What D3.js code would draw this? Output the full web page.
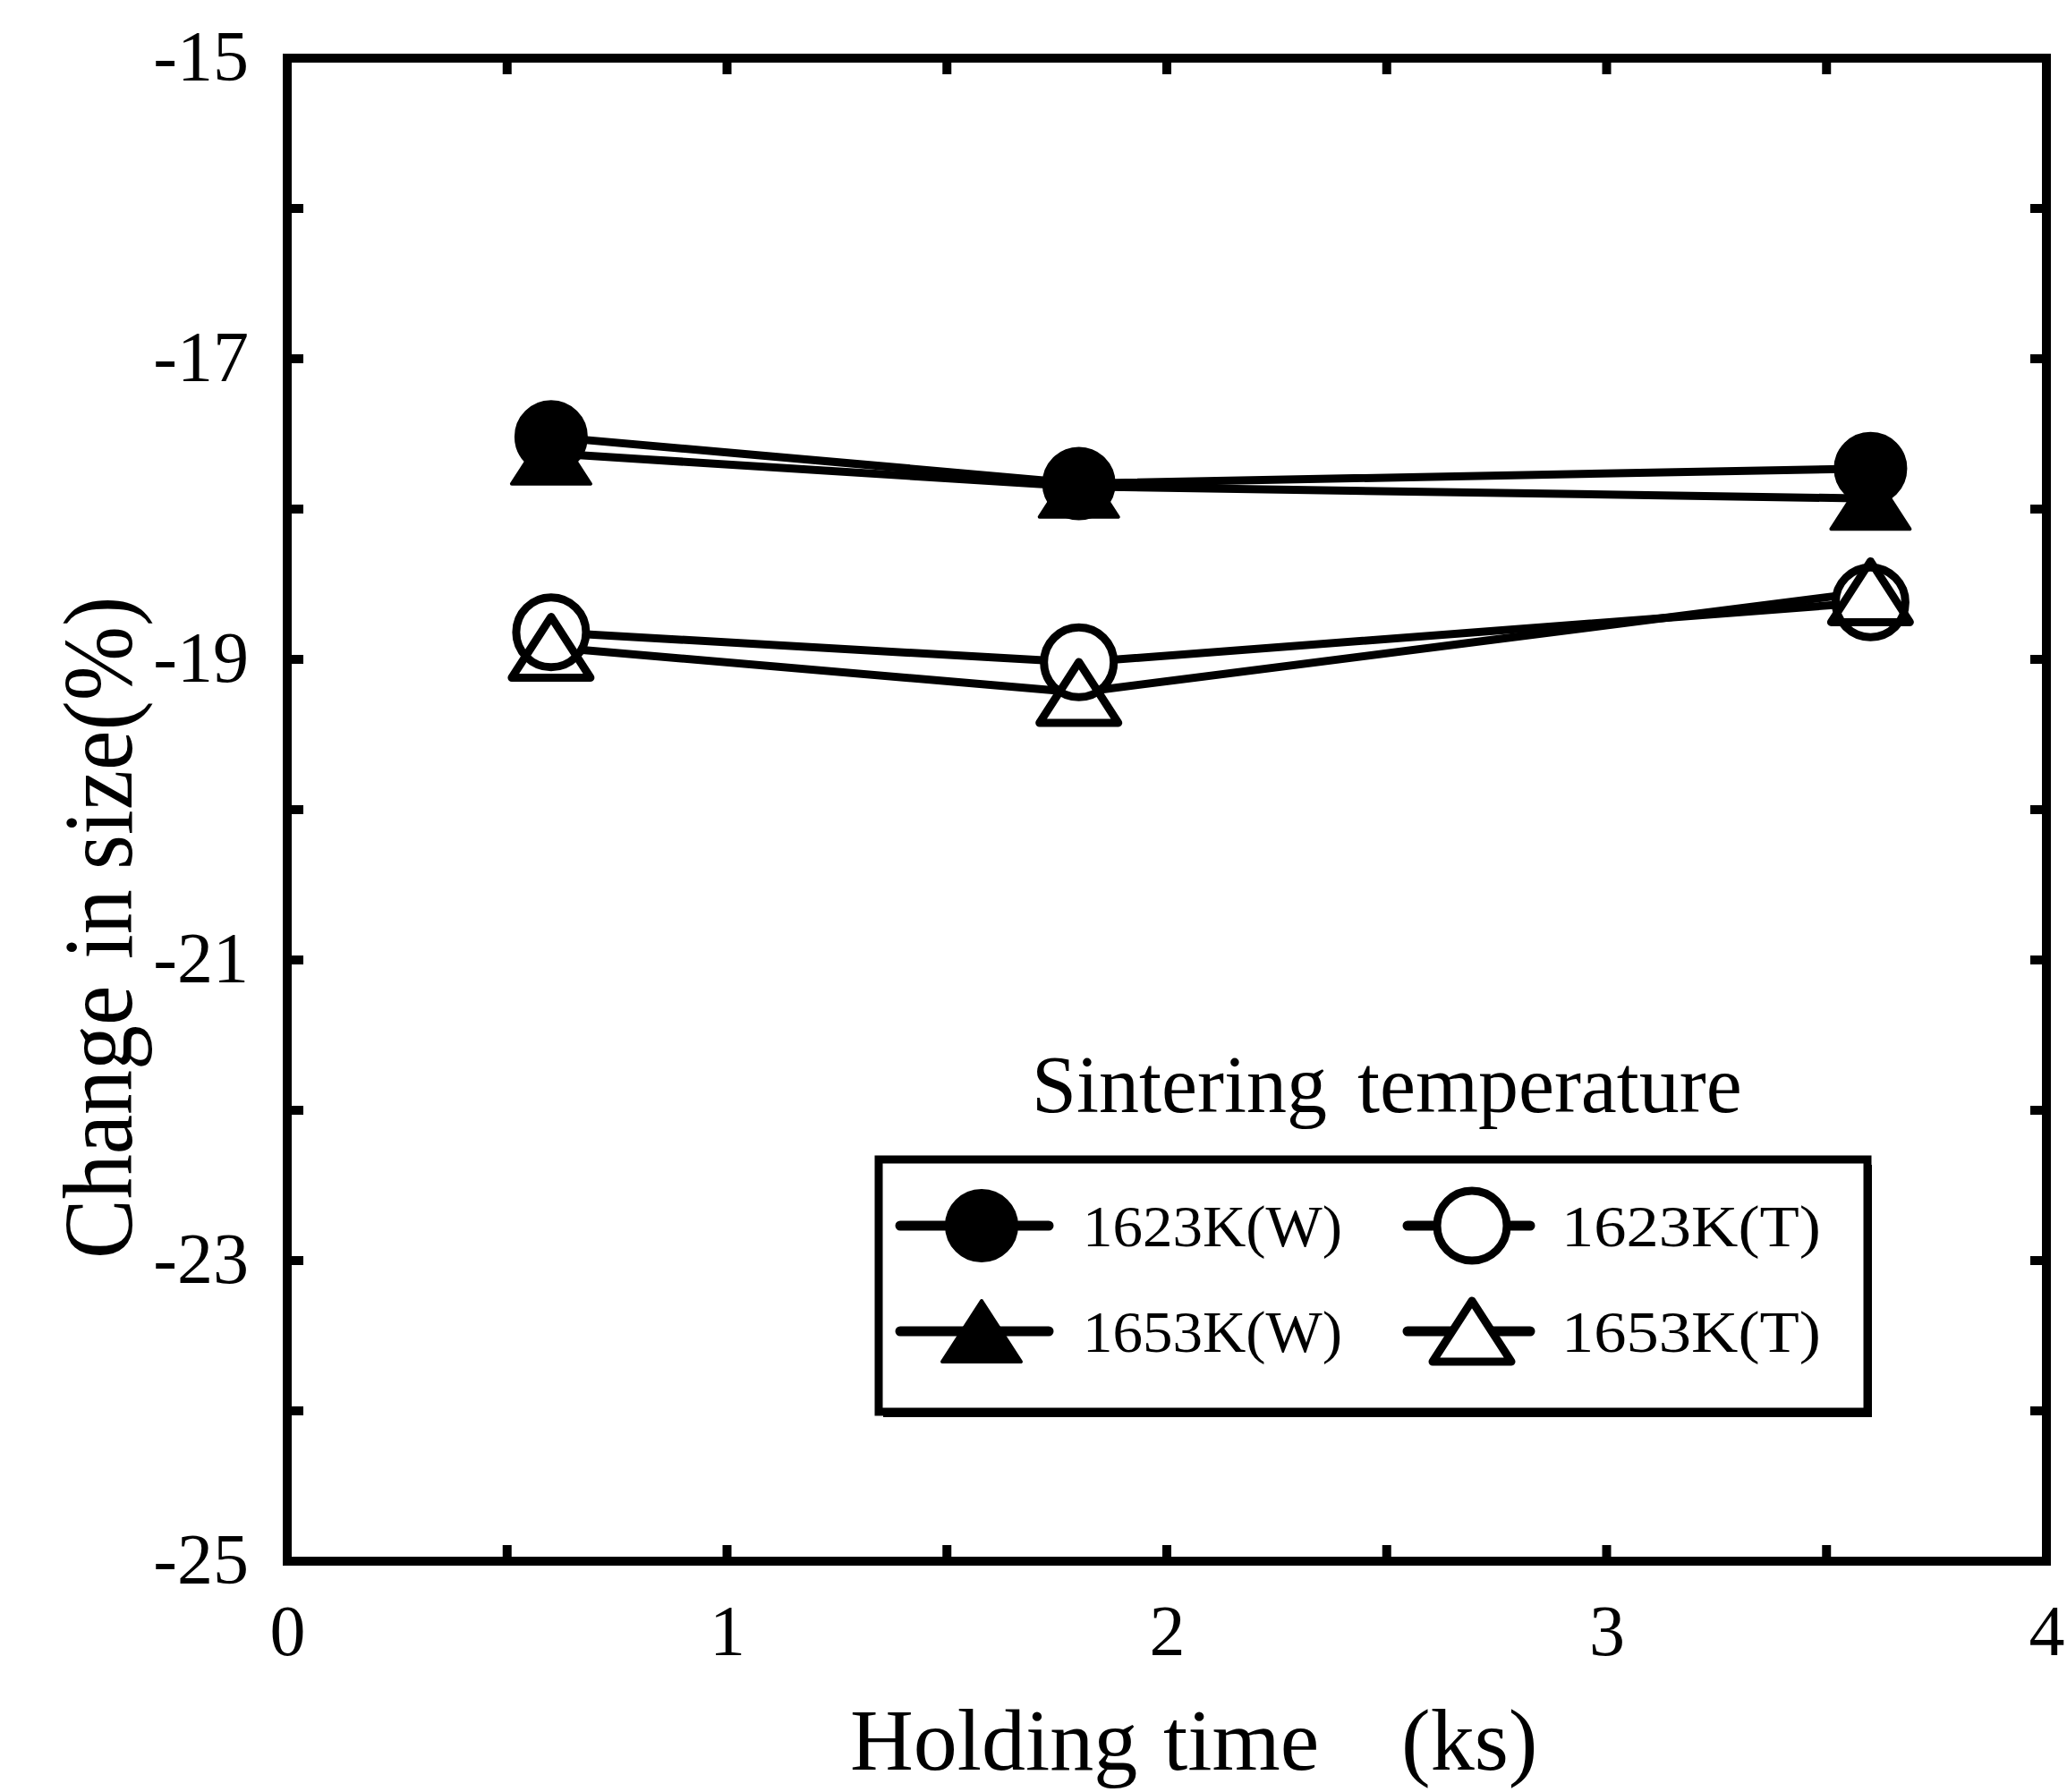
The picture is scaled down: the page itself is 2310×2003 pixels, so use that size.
<!DOCTYPE html>
<html>
<head>
<meta charset="utf-8">
<script src="https://cdn.jsdelivr.net/npm/d3@7"></script>
<style>
  body { margin: 0; background: #fff; }
  text { font-family: "Liberation Serif", "DejaVu Serif", serif; fill: #000; }
</style>
</head>
<body>
<svg id="chart"></svg>
<script>
// Data
const holdingTime = [0.6, 1.8, 3.6];           // ks
const size1623W = [-17.52, -17.83, -17.73];    // %
const size1653W = [-17.63, -17.85, -17.93];
const size1623T = [-18.82, -19.02, -18.62];
const size1653T = [-18.92, -19.22, -18.55];
const seriesNames = ["1623K(W)", "1653K(W)", "1623K(T)", "1653K(T)"];
const xTickLabels = [0, 1, 2, 3, 4];
const yTickLabels = [-15, -17, -19, -21, -23, -25];

const width = 2310, height = 2003;
const plot = { left: 321, right: 2287, top: 65, bottom: 1745 };

const svg = d3.select("#chart")
  .attr("width", width)
  .attr("height", height);

svg.append("rect").attr("width", width).attr("height", height).attr("fill", "#fff");

const x = d3.scaleLinear().domain([0, 4]).range([plot.left, plot.right]);
const y = d3.scaleLinear().domain([-25, -15]).range([plot.bottom, plot.top]);

const series = [
  { name: seriesNames[0], values: size1623W, shape: "circle", filled: true },
  { name: seriesNames[1], values: size1653W, shape: "triangle", filled: true },
  { name: seriesNames[2], values: size1623T, shape: "circle", filled: false },
  { name: seriesNames[3], values: size1653T, shape: "triangle", filled: false }
];

// marker geometry
const R = 39, TRI_W = 88, TRI_H = 68;
const triPath = (cx, cy) =>
  `M${cx},${cy - TRI_H / 2}L${cx + TRI_W / 2},${cy + TRI_H / 2}L${cx - TRI_W / 2},${cy + TRI_H / 2}Z`;

function drawMarker(g, shape, cx, cy, filled, part) {
  // part: "fill" draws the white/black body, "stroke" draws the outline only
  const el = shape === "circle"
    ? g.append("circle").attr("cx", cx).attr("cy", cy).attr("r", R)
    : g.append("path").attr("d", triPath(cx, cy)).attr("stroke-linejoin", "round");
  if (part === "fill") {
    el.attr("fill", filled ? "#000" : "#fff").attr("stroke", filled ? "#000" : "none").attr("stroke-width", 4);
  } else {
    el.attr("fill", "none").attr("stroke", "#000").attr("stroke-width", 9);
  }
}

// Ticks (inward, all four sides)
const ticks = svg.append("g").attr("stroke", "#000").attr("stroke-width", 10);
const TICK = 18;
d3.range(0.5, 4, 0.5).forEach(v => {
  ticks.append("line").attr("x1", x(v)).attr("x2", x(v)).attr("y1", plot.bottom).attr("y2", plot.bottom - TICK);
  ticks.append("line").attr("x1", x(v)).attr("x2", x(v)).attr("y1", plot.top).attr("y2", plot.top + TICK);
});
d3.range(-24, -15, 1).forEach(v => {
  ticks.append("line").attr("y1", y(v)).attr("y2", y(v)).attr("x1", plot.left).attr("x2", plot.left + TICK);
  ticks.append("line").attr("y1", y(v)).attr("y2", y(v)).attr("x1", plot.right).attr("x2", plot.right - TICK);
});

// Frame
svg.append("rect")
  .attr("x", plot.left).attr("y", plot.top)
  .attr("width", plot.right - plot.left).attr("height", plot.bottom - plot.top)
  .attr("fill", "none").attr("stroke", "#000").attr("stroke-width", 10);

// Tick labels
const xAxis = d3.axisBottom(x).tickValues(xTickLabels).tickSize(0).tickPadding(0).tickFormat(d => String(d));
svg.append("g")
  .attr("transform", `translate(0,${plot.bottom})`)
  .call(xAxis)
  .call(g => g.select(".domain").remove())
  .call(g => g.selectAll("text")
    .attr("y", 105).attr("dy", null)
    .attr("font-size", 80).attr("fill", "#000")
    .style("font-family", "'Liberation Serif', serif"));

const yAxis = d3.axisLeft(y).tickValues(yTickLabels).tickSize(0).tickPadding(0).tickFormat(d => String(d));
svg.append("g")
  .attr("transform", `translate(${plot.left - 43},0)`)
  .call(yAxis)
  .call(g => g.select(".domain").remove())
  .call(g => g.selectAll("text")
    .attr("dy", "0.3em")
    .attr("font-size", 80).attr("fill", "#000")
    .style("font-family", "'Liberation Serif', serif"));

// Axis titles (words placed separately to keep the wide gaps)
const xTitle = svg.append("text").attr("y", 1978).attr("font-size", 98);
[["Holding", 950], ["time", 1300], ["(ks)", 1566]].forEach(([w, px]) =>
  xTitle.append("tspan").attr("x", px).text(w));

const yTitle = svg.append("text")
  .attr("transform", "translate(147,1407) rotate(-90) scale(1,1.1)")
  .attr("font-size", 100);
[["Change", 0], ["in", 335], ["size(%)", 435]].forEach(([w, px]) =>
  yTitle.append("tspan").attr("x", px).attr("y", 0).text(w));

// Series lines
const line = d3.line().x((d, i) => x(holdingTime[i])).y(d => y(d));
const lines = svg.append("g");
series.forEach(s => {
  lines.append("path")
    .attr("d", line(s.values))
    .attr("fill", "none")
    .attr("stroke", "#000")
    .attr("stroke-width", 9)
    .attr("stroke-linejoin", "round");
});

// Markers: bodies first, then outlines so overlapping open symbols stay visible
const marks = svg.append("g");
series.forEach(s => s.values.forEach((v, i) =>
  drawMarker(marks, s.shape, x(holdingTime[i]), y(v), s.filled, "fill")));
series.filter(s => !s.filled).forEach(s => s.values.forEach((v, i) =>
  drawMarker(marks, s.shape, x(holdingTime[i]), y(v), false, "stroke")));

// Legend
const legTitle = svg.append("text").attr("y", 1243).attr("font-size", 90);
[["Sintering", 1153], ["temperature", 1517]].forEach(([w, px]) =>
  legTitle.append("tspan").attr("x", px).text(w));

const legend = svg.append("g");
const box = { x: 982, y: 1296, w: 1105, h: 282 };
legend.append("rect")
  .attr("x", box.x + 5).attr("y", box.y + 6).attr("width", box.w).attr("height", box.h)
  .attr("fill", "#000");
legend.append("rect")
  .attr("x", box.x).attr("y", box.y).attr("width", box.w).attr("height", box.h)
  .attr("fill", "#fff").attr("stroke", "#000").attr("stroke-width", 9);

const legendItems = [
  { s: series[0], lx: 1006, mx: 1097, rx: 1172, tx: 1210, ry: 1370 },
  { s: series[1], lx: 1006, mx: 1097, rx: 1172, tx: 1210, ry: 1488 },
  { s: series[2], lx: 1573, mx: 1645, rx: 1710, tx: 1745, ry: 1370 },
  { s: series[3], lx: 1573, mx: 1645, rx: 1710, tx: 1745, ry: 1488 }
];
legendItems.forEach(it => {
  legend.append("line")
    .attr("x1", it.lx).attr("x2", it.rx).attr("y1", it.ry).attr("y2", it.ry)
    .attr("stroke", "#000").attr("stroke-width", 11).attr("stroke-linecap", "round");
  drawMarker(legend, it.s.shape, it.mx, it.ry, it.s.filled, "fill");
  if (!it.s.filled) drawMarker(legend, it.s.shape, it.mx, it.ry, false, "stroke");
  legend.append("text")
    .attr("x", it.tx).attr("y", it.ry + 23)
    .attr("font-size", 65)
    .attr("textLength", 290).attr("lengthAdjust", "spacingAndGlyphs")
    .text(it.s.name);
});
</script>
</body>
</html>
